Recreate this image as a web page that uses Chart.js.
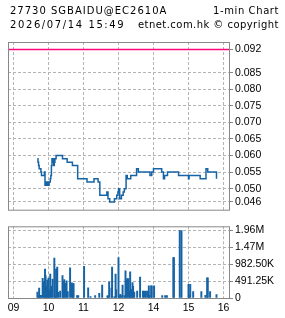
<!DOCTYPE html>
<html>
<head>
<meta charset="utf-8">
<script src="https://cdn.jsdelivr.net/npm/chart.js@4/dist/chart.umd.min.js"></script>
<style>
  body { margin: 0; width: 285px; height: 318px; background: #fff; position: relative; overflow: hidden; }
  .hd { position: absolute; font: 10px "DejaVu Sans", sans-serif; line-height: 10px; color: #000; white-space: nowrap; }
  #priceWrap { position: absolute; left: 0; top: 0; width: 285px; height: 218px; }
  #volWrap { position: absolute; left: 0; top: 218px; width: 285px; height: 100px; }
</style>
</head>
<body>
<div id="priceWrap"><canvas id="priceChart"></canvas></div>
<div id="volWrap"><canvas id="volChart"></canvas></div>
<div class="hd" style="left:10px;top:5.5px;letter-spacing:1px">27730 SGBAIDU@EC2610A</div>
<div class="hd" style="left:213px;top:5.5px;letter-spacing:0.6px">1-min Chart</div>
<div class="hd" style="left:10px;top:19.5px;letter-spacing:1.6px">2026/07/14 15:49</div>
<div class="hd" style="left:138px;top:19.5px;letter-spacing:0.45px">etnet.com.hk © copyright</div>
<script>
// price steps (trade time -> last price)
const priceTimes = ['09:41','09:42','09:43','09:44','09:47','09:48','09:53','09:54','09:55','09:57',
  '09:59','10:00','10:01','10:03','10:04','10:05','10:06','10:07','10:08','10:09',
  '10:10','10:11','10:13','10:24','10:32','10:41','10:50','11:06','11:18','11:25',
  '11:28','11:40','11:42','11:45','11:53','11:57','11:59','12:00','13:02','13:05',
  '13:08','13:10','13:13','13:15','13:21','13:31','13:34','13:54','13:57','14:00',
  '14:14','14:17','14:19','14:24','14:43','15:00','15:01','15:20','15:30','15:33','15:48'];
const prices = [0.059,0.058,0.057,0.056,0.055,0.054,0.055,0.051,0.052,0.051,
  0.052,0.051,0.052,0.053,0.054,0.057,0.059,0.058,0.059,0.057,
  0.058,0.059,0.060,0.059,0.058,0.057,0.053,0.052,0.053,0.052,
  0.048,0.049,0.047,0.046,0.047,0.048,0.049,0.050,0.047,0.048,
  0.049,0.050,0.054,0.053,0.054,0.056,0.055,0.054,0.055,0.056,
  0.055,0.053,0.054,0.055,0.054,0.053,0.054,0.053,0.056,0.055,0.053];
const refPrice = 0.092;

// per-minute volume
const volTimes = ['09:41','09:43','09:44','09:46','09:48','09:50','09:52','09:54','09:55','09:57',
  '09:58','10:00','10:01','10:03','10:05','10:07','10:10','10:11','10:13','10:15',
  '10:17','10:20','10:24','10:25','10:27','10:29','10:31','10:33','10:37','10:40',
  '10:42','10:43','10:49','10:51','11:01','11:08','11:12','11:20','11:27','11:32',
  '11:41','11:42','11:44','11:48','11:49','11:53','11:55','11:56','12:00','13:01',
  '13:03','13:05','13:07','13:10','13:12','13:13','13:15','13:17','13:19','13:20',
  '13:22','13:24','13:25','13:27','13:32','13:37','13:42','13:44','13:47','13:50',
  '13:52','13:53','13:56','13:57','14:01','14:15','14:20','14:23','14:34','14:35',
  '14:45','14:48','15:00','15:01','15:03','15:08','15:22','15:29','15:32','15:33',
  '15:37','15:48'];
const volumes = [175000,60000,290000,75000,75000,570000,480000,840000,650000,345000,
  520000,580000,240000,700000,340000,550000,1160000,60000,840000,900000,
  165000,200000,650000,480000,540000,430000,500000,190000,880000,440000,
  420000,420000,74000,74000,920000,300000,40000,70000,137000,380000,
  60000,60000,470000,290000,900000,40000,700000,245000,1175000,65000,
  110000,70000,380000,70000,790000,520000,565000,565000,200000,760000,
  245000,450000,340000,175000,200000,610000,200000,200000,200000,200000,
  355000,80000,355000,355000,355000,70000,70000,70000,1175000,1175000,
  1965000,1965000,400000,80000,400000,190000,190000,80000,590000,590000,
  190000,100000];

const priceTicks = [0.046, 0.050, 0.055, 0.060, 0.065, 0.070, 0.075, 0.080, 0.085, 0.092];
const volTicks = [0, 491250, 982500, 1473750, 1965000];
const volTickLabels = ['0', '491.25K', '982.50K', '1.47M', '1.96M'];
const hourTicks = [0, 60, 120, 180, 240, 300, 360];
const hourLabels = ['09', '10', '11', '12', '14', '15', '16'];

// minutes from 09:00 with the lunch break (12:00-13:00) removed
function toMin(t) {
  const [h, m] = t.split(':').map(Number);
  let v = h * 60 + m - 540;
  if (v > 180) v = Math.max(180, v - 60);
  return v;
}

const X_MIN = -9.43, X_MAX = 369.43;
const GRID = '#b4b4b4';

const framePlugin = {
  id: 'frame',
  afterDraw(chart) {
    const a = chart.chartArea, ctx = chart.ctx;
    ctx.save();
    ctx.strokeStyle = '#888';
    ctx.lineWidth = 1;
    ctx.strokeRect(a.left + 0.5, a.top + 0.5, a.right - a.left, a.bottom - a.top);
    ctx.restore();
  }
};

Chart.defaults.font.family = '"Liberation Sans", sans-serif';
Chart.defaults.font.size = 10.5;
Chart.defaults.color = '#000';

function xScale(showLabels) {
  return {
    type: 'linear', min: X_MIN, max: X_MAX, offset: false,
    afterBuildTicks: s => { s.ticks = hourTicks.map(v => ({ value: v })); },
    afterFit: s => { s.height = showLabels ? 20 : 0; },
    grid: { color: GRID, drawTicks: false, offset: false },
    border: { display: false, dash: [3, 2] },
    ticks: { display: showLabels, padding: 4, maxRotation: 0, autoSkip: false,
      callback: (v, i) => hourLabels[i] }
  };
}

function yGrid() {
  return { color: GRID, drawTicks: true, tickLength: 4, tickColor: '#888', tickBorderDash: [], tickWidth: 1 };
}

// price chart
new Chart(document.getElementById('priceChart'), {
  type: 'line',
  data: {
    datasets: [{
      data: [{ x: X_MIN, y: refPrice }, { x: X_MAX, y: refPrice }],
      borderColor: '#ff0a7e', borderWidth: 1.5, pointRadius: 0
    }, {
      data: priceTimes.map((t, i) => ({ x: toMin(t), y: prices[i] })),
      borderColor: '#1664a6', borderWidth: 1.5, pointRadius: 0, stepped: true
    }]
  },
  options: {
    responsive: true, maintainAspectRatio: false, animation: false,
    layout: { padding: { left: 8, top: 42, bottom: 2, right: 0 } },
    plugins: { legend: { display: false }, tooltip: { enabled: false } },
    scales: {
      x: xScale(false),
      y: {
        position: 'right', min: 0.04366, max: 0.09424,
        afterBuildTicks: s => { s.ticks = priceTicks.map(v => ({ value: v })); },
        afterFit: s => { s.width = 56; },
        grid: yGrid(),
        border: { display: false, dash: [3, 2] },
        ticks: { padding: 2, callback: v => v.toFixed(3) }
      }
    }
  },
  plugins: [framePlugin]
});

// volume chart
new Chart(document.getElementById('volChart'), {
  type: 'bar',
  data: {
    datasets: [{
      data: volTimes.map((t, i) => ({ x: toMin(t), y: volumes[i] })),
      backgroundColor: '#1664a6', barThickness: 1.3
    }]
  },
  options: {
    responsive: true, maintainAspectRatio: false, animation: false,
    layout: { padding: { left: 8, top: 3, bottom: 0, right: 0 } },
    plugins: { legend: { display: false }, tooltip: { enabled: false } },
    scales: {
      x: xScale(true),
      y: {
        position: 'right', min: 0, max: 2090000,
        afterBuildTicks: s => { s.ticks = volTicks.map(v => ({ value: v })); },
        afterFit: s => { s.width = 56; },
        grid: yGrid(),
        border: { display: false, dash: [3, 2] },
        ticks: { padding: 2, callback: (v, i) => volTickLabels[i] }
      }
    }
  },
  plugins: [framePlugin]
});
</script>
</body>
</html>
